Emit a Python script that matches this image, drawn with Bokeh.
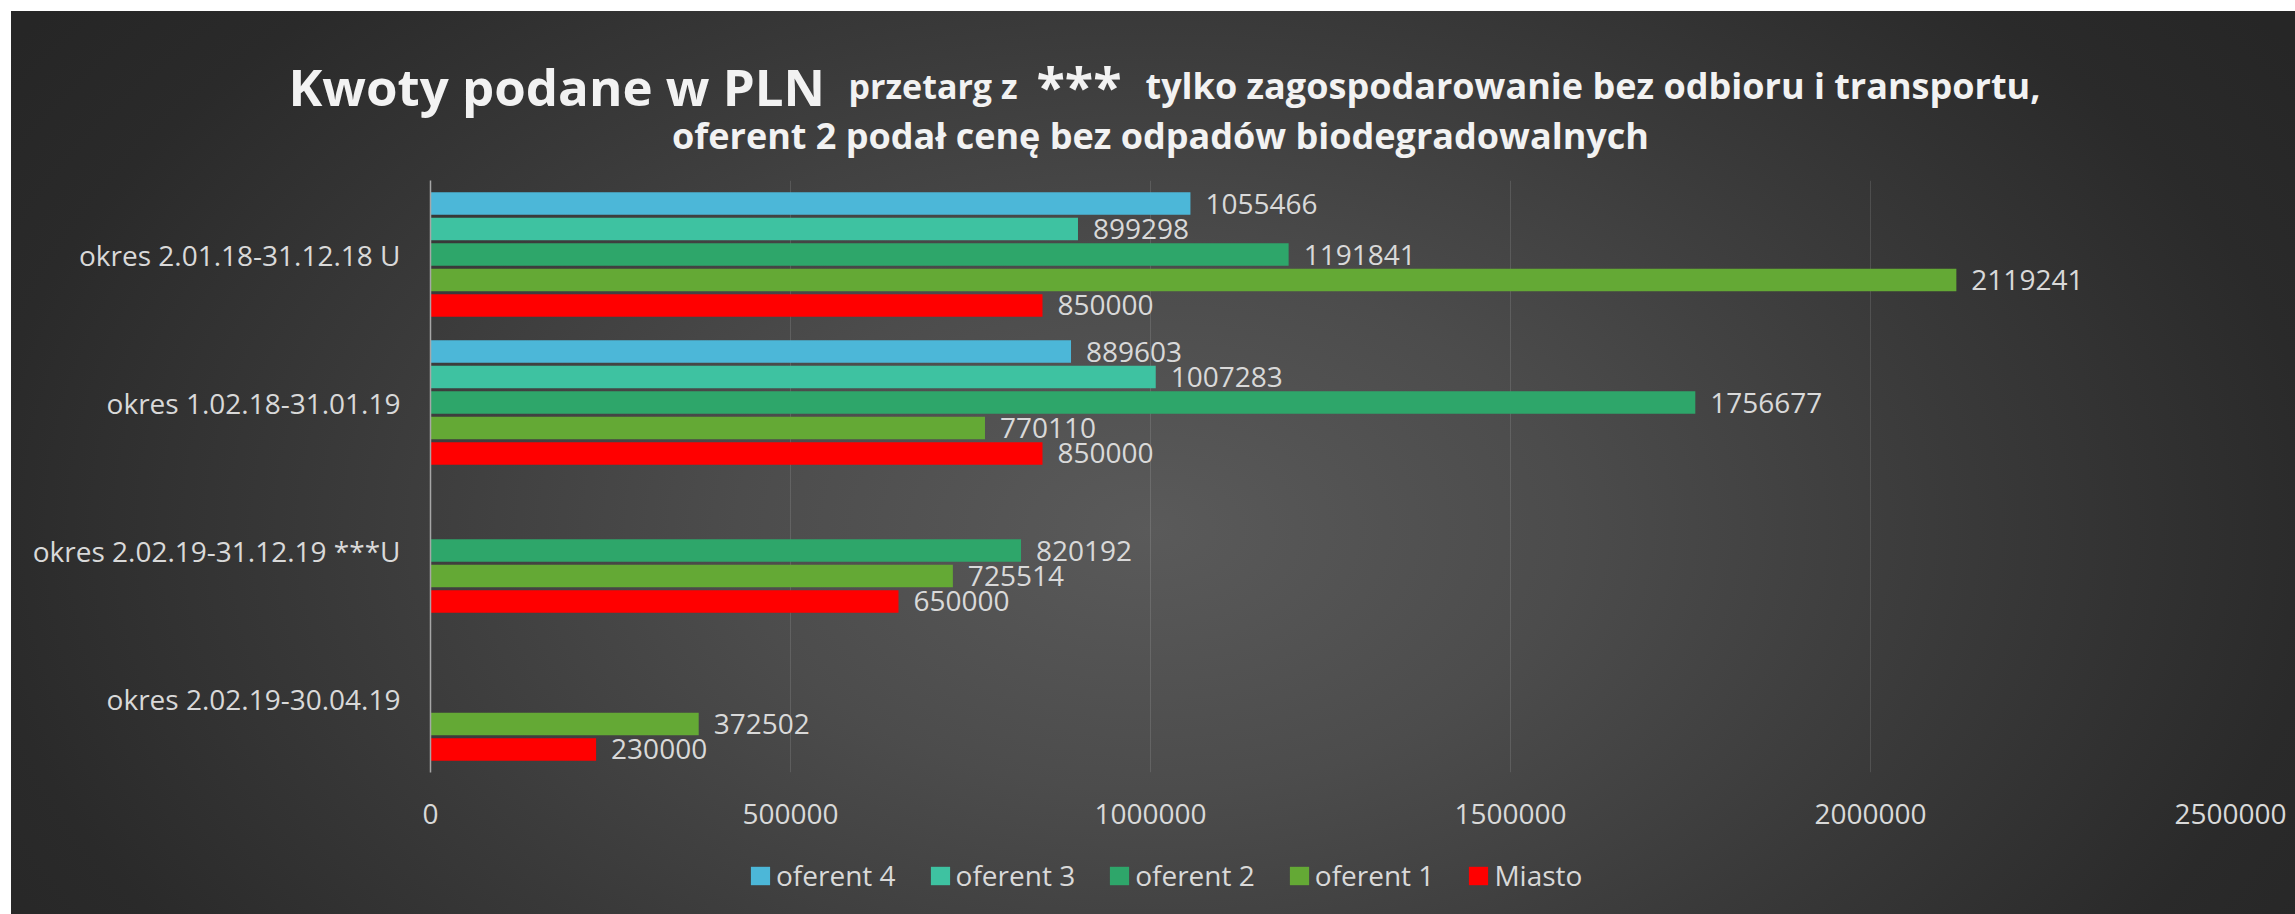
from bokeh.plotting import figure
from bokeh.models import (ColumnDataSource, FactorRange, Range1d, FixedTicker,
                          BasicTickFormatter, Legend, LegendItem)
from bokeh.transform import dodge
from bokeh.core.properties import value
from bokeh.embed import file_html
from bokeh.resources import INLINE

# ---------------- data ----------------
categories = ["okres 2.02.19-30.04.19", "okres 2.02.19-31.12.19 ***U",
              "okres 1.02.18-31.01.19", "okres 2.01.18-31.12.18 U"]
series_names = ["Miasto", "oferent 1", "oferent 2", "oferent 3", "oferent 4"]
miasto = [230000, 650000, 850000, 850000]
oferent_1 = [372502, 725514, 770110, 2119241]
oferent_2 = [None, 820192, 1756677, 1191841]
oferent_3 = [None, None, 1007283, 899298]
oferent_4 = [None, None, 889603, 1055466]
x_ticks = [0, 500000, 1000000, 1500000, 2000000, 2500000]

series_values = [miasto, oferent_1, oferent_2, oferent_3, oferent_4]
colors = ["#ff0000", "#64a935", "#2ea66a", "#3ec2a1", "#4cb7d8"]
offsets = [-0.344, -0.172, 0.0, 0.172, 0.344]

title_pieces = ["Kwoty podane w PLN", "przetarg z", "***",
                "tylko zagospodarowanie bez odbioru i transportu,"]
title_line2 = "oferent 2 podał cenę bez odpadów biodegradowalnych"

# ---------------- layout (page pixels, body margin is 0) ----------------
W, HTOT = 2295, 914
TH = 180                 # title strip: 0..180
LEG_TOP = 845            # legend strip: 845..914
MH = LEG_TOP - TH        # main chart: 180..845
LH = HTOT - LEG_TOP
FL, FR, FB = 430, 65, LEG_TOP - 772

WHITE = "linear-gradient(#ffffff, #ffffff)"


def background(dy, top_band=False):
    cy = 530 - dy
    layers = []
    if top_band:
        layers.append(f"{WHITE} 0 0 / 100% 11px no-repeat")
    layers.append(f"{WHITE} 0 0 / 11px 100% no-repeat")
    layers.append(f"radial-gradient(ellipse 1377px 868px at 1150px {cy}px, "
                  "#5a5a5a 0%, #4c4c4c 30%, #393939 60%, #2a2a2a 85%, "
                  "#262626 100%)")
    return ", ".join(layers)


def strip(height, dy, top_band=False):
    f = figure(width=W, height=height, x_range=Range1d(0, W),
               y_range=Range1d(0, height), x_axis_type=None, y_axis_type=None,
               output_backend="svg", toolbar_location=None, min_border=0,
               border_fill_color=None, background_fill_color=None,
               outline_line_color=None,
               styles={"background": background(dy, top_band)})
    f.title.visible = False
    f.xgrid.visible = False
    f.ygrid.visible = False
    return f


# ---- title strip ----
t = strip(TH, 0, top_band=True)
title_x = [288, 848, 1036, 1145]
title_sizes = ["51px", "34px", "52px", "36px"]
for txt, xp, sz in zip(title_pieces, title_x, title_sizes):
    t.text(x=[xp], y=[TH - 85], text=[txt], text_align="left",
           text_baseline="alphabetic", text_font=value("Open Sans"),
           text_font_style="bold", text_font_size=sz, text_color="#f2f2f2")
t.text(x=[1160], y=[TH - 135], text=[title_line2], text_align="center",
       text_baseline="alphabetic", text_font=value("Open Sans"),
       text_font_style="bold", text_font_size="36px", text_color="#f2f2f2")

# ---- main chart ----
p = figure(width=W, height=MH, y_range=FactorRange(*categories),
           x_range=Range1d(0, 2500000), output_backend="svg",
           toolbar_location=None,
           min_border_left=FL, min_border_right=FR,
           min_border_top=0, min_border_bottom=FB,
           border_fill_color=None, background_fill_color=None,
           outline_line_color=None, styles={"background": background(TH)})
p.title.visible = False

p.xaxis.ticker = FixedTicker(ticks=x_ticks)
p.xaxis.formatter = BasicTickFormatter(use_scientific=False)
p.xaxis.axis_line_color = None
p.xaxis.major_tick_line_color = None
p.xaxis.minor_tick_line_color = None
p.xaxis.major_tick_in = 0
p.xaxis.major_tick_out = 0
p.xaxis.major_label_standoff = 31
p.xaxis.major_label_text_font = "Open Sans"
p.xaxis.major_label_text_font_size = "28px"
p.xaxis.major_label_text_color = "#d9d9d9"

p.yaxis.axis_line_color = "#a6a6a6"
p.yaxis.axis_line_width = 1.5
p.yaxis.major_tick_line_color = None
p.yaxis.minor_tick_line_color = None
p.yaxis.major_tick_in = 0
p.yaxis.major_tick_out = 0
p.yaxis.major_label_standoff = 30
p.yaxis.major_label_text_font = "Open Sans"
p.yaxis.major_label_text_font_size = "28px"
p.yaxis.major_label_text_color = "#d9d9d9"

p.ygrid.grid_line_color = None
p.xgrid.ticker = FixedTicker(ticks=x_ticks)
p.xgrid.grid_line_color = "#ffffff"
p.xgrid.grid_line_alpha = 0.12

for name, vals, col, off in zip(series_names, series_values, colors, offsets):
    cats = [c for c, v in zip(categories, vals) if v is not None]
    vs = [v for v in vals if v is not None]
    src = ColumnDataSource(dict(cat=cats, val=vs, lbl=[str(v) for v in vs]))
    yy = dodge("cat", off, range=p.y_range)
    p.hbar(y=yy, left=0, right="val", height=0.152, source=src,
           fill_color=col, line_color=None)
    p.text(x="val", y=yy, text="lbl", source=src, x_offset=15,
           text_baseline="middle", text_align="left",
           text_font=value("Open Sans"), text_font_size="28px",
           text_color="#d9d9d9")

# ---- legend strip (swatches only; no bars are drawn here) ----
lg = strip(LH, LEG_TOP)
nan = float("nan")
items = []
for name, col in zip(series_names, colors):
    r = lg.hbar(y=[nan], left=[nan], right=[nan], height=1,
                fill_color=col, line_color=None)
    items.append(LegendItem(label=name, renderers=[r]))
legend = Legend(items=list(reversed(items)), orientation="horizontal",
                location=(748, 20), glyph_width=24, glyph_height=23,
                label_standoff=4, spacing=32, padding=0, margin=0,
                background_fill_alpha=0, border_line_color=None,
                label_text_font="Open Sans", label_text_font_size="28px",
                label_text_color="#d9d9d9")
lg.add_layout(legend)

open("out.html", "w").write(file_html([t, p, lg], INLINE))
